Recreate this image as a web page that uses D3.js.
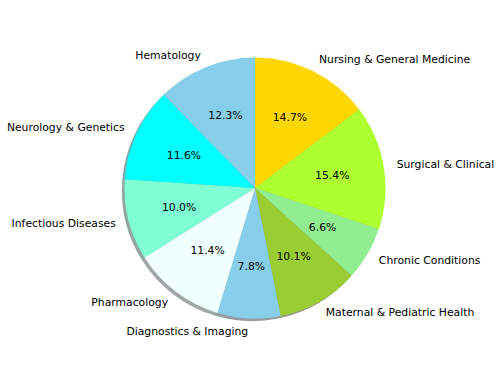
<!DOCTYPE html>
<html><head><meta charset="utf-8">
<script src="https://cdn.jsdelivr.net/npm/d3@7"></script>
<style>body{margin:0;background:#fff;} svg{display:block;}</style>
</head><body>
<svg id="chart" width="498" height="374"></svg>
<script>
const categories = ["Nursing & General Medicine","Surgical & Clinical","Chronic Conditions","Maternal & Pediatric Health","Diagnostics & Imaging","Pharmacology","Infectious Diseases","Neurology & Genetics","Hematology"];
const values = [14.7, 15.4, 6.6, 10.1, 7.8, 11.4, 10.0, 11.6, 12.3];
const colors = ["#FFD700","#ADFF2F","#90EE90","#9ACD32","#87CEEB","#F0FFFF","#7FFFD4","#00FFFF","#87CEEB"];

const svg = d3.select("#chart");
const cx = 255, cy = 188, r = 130.5;
const g = svg.append("g").attr("transform", `translate(${cx},${cy})`);
const data = categories.map((c,i)=>({name:c, value:values[i], color:colors[i]}));
const total = d3.sum(values);
const pie = d3.pie().value(d=>d.value).sort(null).startAngle(0).endAngle(2*Math.PI);
const arcs = pie(data);
const arc = d3.arc().innerRadius(0).outerRadius(r);

// shadow
const off = 0.02*r;
g.append("g").attr("transform", `translate(${-off},${off})`)
  .selectAll("path").data(arcs).join("path")
  .attr("d", arc)
  .attr("fill", d=>{const c=d3.rgb(d.data.color); return d3.rgb(c.r*0.3,c.g*0.3,c.b*0.3).toString();})
  .attr("fill-opacity", 0.5);

g.selectAll("path.w").data(arcs).join("path").attr("class","w")
  .attr("d", arc).attr("fill", d=>d.data.color);

const fs = 10.8;
arcs.forEach(d=>{
  const a = (d.startAngle+d.endAngle)/2;
  const sx = Math.sin(a), sy = -Math.cos(a);
  g.append("text")
    .attr("x", 1.1*r*sx).attr("y", 1.1*r*sy)
    .attr("text-anchor", sx<0 ? "end" : "start")
    .attr("dominant-baseline","central")
    .attr("font-family","DejaVu Sans").attr("font-size",fs).attr("fill","#000")
    .text(d.data.name);
  g.append("text")
    .attr("x", 0.6*r*sx).attr("y", 0.6*r*sy)
    .attr("text-anchor","middle")
    .attr("dominant-baseline","central")
    .attr("font-family","DejaVu Sans").attr("font-size",fs).attr("fill","#000")
    .text((d.data.value/total*100).toFixed(1)+"%");
});
</script>
</body></html>
